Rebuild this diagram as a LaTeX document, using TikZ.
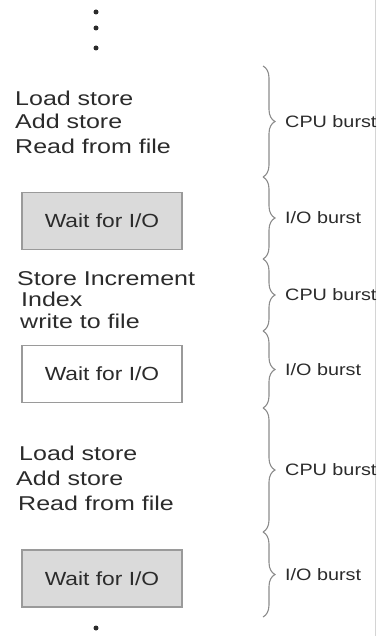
\documentclass[tikz,border=0pt]{standalone}
\usepackage{fontspec}
\setmainfont[FakeStretch=1.2]{Liberation Sans}
\newfontfamily\codefont[FakeStretch=1.25]{Liberation Sans}
\usetikzlibrary{decorations.pathreplacing}
\definecolor{ink}{HTML}{2B2B2B}
\definecolor{bracegray}{HTML}{8C8C8C}
\definecolor{boxfill}{HTML}{DADADA}
\definecolor{boxline}{HTML}{9A9A9A}
\definecolor{edgegray}{HTML}{D4D4D4}
\begin{document}
\begin{tikzpicture}[x=1pt,y=-1pt,
  code/.style={anchor=base west, inner sep=0pt, text=ink, font=\codefont\fontsize{20}{24}\selectfont},
  waitbox/.style={draw=boxline, line width=1.2pt, minimum width=160pt, minimum height=57pt,
                  inner sep=0pt, text=ink, font=\fontsize{19}{23}\selectfont},
  burst/.style={decorate, decoration={brace, amplitude=12pt}, draw=bracegray, line width=1.1pt},
  burstlabel/.style={anchor=west, inner sep=0pt, text=ink, font=\fontsize{16.5}{20}\selectfont},
  dot/.style={circle, fill=ink, inner sep=0pt, minimum size=5pt}]
\useasboundingbox (0,0) rectangle (376,636);

% thin frame line on the right edge
\draw[edgegray, line width=0.8pt] (375.4,0) -- (375.4,636);

% continuation dots
\node[dot] (d1) at (96,12) {};
\node[dot] (d2) at (96,28) {};
\node[dot] (d3) at (96,48) {};
\node[dot] (d4) at (96,628) {};

% first CPU burst
\node[code] (l1) at (15,105.7) {Load store};
\node[code] (a1) at (15,128.7) {Add store};
\node[code] (r1) at (15,154) {Read from file};

% first I/O wait
\node[waitbox, fill=boxfill] (w1) at (102,221) {\raisebox{-2pt}{Wait for I/O}};

% second CPU burst
\node[code] (s2) at (17,285) {Store Increment};
\node[code] (i2) at (21,306.7) {Index};
\node[code] (f2) at (20,328.3) {write to file};

% second I/O wait
\node[waitbox, fill=white] (w2) at (102,374) {Wait for I/O};

% third CPU burst
\node[code] (l3) at (19,460.7) {Load store};
\node[code] (a3) at (16,485) {Add store};
\node[code] (r3) at (18,510.7) {Read from file};

% third I/O wait
\node[waitbox, fill=boxfill] (w3) at (102,578.5) {Wait for I/O};

% brace boundaries
\coordinate (b0) at (263,66);
\coordinate (b1) at (263,177);
\coordinate (b2) at (263,259);
\coordinate (b3) at (263,331);
\coordinate (b4) at (263,408);
\coordinate (b5) at (263,532);
\coordinate (b6) at (263,617);

\draw[burst] (b0) -- (b1);
\draw[burst] (b1) -- (b2);
\draw[burst] (b2) -- (b3);
\draw[burst] (b3) -- (b4);
\draw[burst] (b4) -- (b5);
\draw[burst] (b5) -- (b6);

% burst labels
\node[burstlabel] (c1) at (285,121.5) {CPU burst};
\node[burstlabel] (o1) at (285,218) {I/O burst};
\node[burstlabel] (c2) at (285,295) {CPU burst};
\node[burstlabel] (o2) at (285,370) {I/O burst};
\node[burstlabel] (c3) at (285,470) {CPU burst};
\node[burstlabel] (o3) at (285,574.5) {I/O burst};
\end{tikzpicture}
\end{document}
